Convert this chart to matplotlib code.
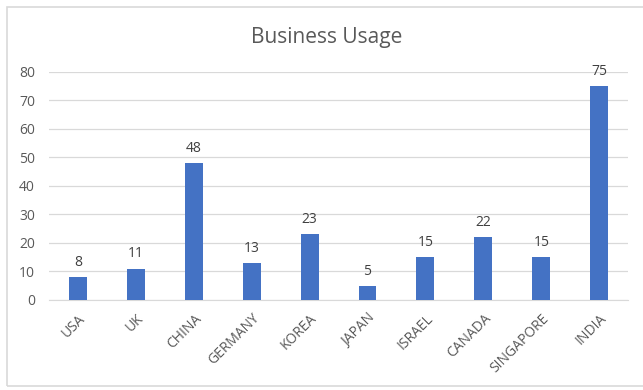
import matplotlib.pyplot as plt
from matplotlib.patches import Rectangle
import numpy as np

# 数据
countries = ['USA', 'UK', 'CHINA', 'GERMANY', 'KOREA', 'JAPAN', 'ISRAEL', 'CANADA', 'SINGAPORE', 'INDIA']
usage = [8, 11, 48, 13, 23, 5, 15, 22, 15, 75]
yticks = [0, 10, 20, 30, 40, 50, 60, 70, 80]

plt.rcParams['font.family'] = ['Open Sans', 'DejaVu Sans']
text_color = '#595959'

fig = plt.figure(figsize=(6.43, 3.9), dpi=100)
ax = fig.add_axes([0.076, 0.231, 0.901, 0.585])

# 图表外框
fig.patches.append(Rectangle((7 / 643, 1 - 386 / 390), 1.0, 379 / 390,
                             transform=fig.transFigure, fill=False,
                             edgecolor='#d9d9d9', linewidth=1.2))

x = np.arange(len(countries))
bars = ax.bar(x, usage, width=0.31, color='#4472C4', zorder=3)
for xi, v in zip(x, usage):
    ax.text(xi, v + 2.5, str(v), ha='center', va='bottom', fontsize=10, color='#404040')

ax.set_xlim(-0.5, len(countries) - 0.5)
ax.set_ylim(0, 80)
ax.set_yticks(yticks)
ax.set_xticks(x)
ax.set_xticklabels(countries, rotation=45, ha='right', rotation_mode='anchor')
ax.tick_params(axis='both', length=0, labelsize=10, labelcolor=text_color)
ax.tick_params(axis='x', pad=8)
ax.tick_params(axis='y', pad=10)
ax.yaxis.grid(True, color='#d9d9d9', linewidth=0.9, zorder=0)
for s in ['top', 'right', 'left']:
    ax.spines[s].set_visible(False)
ax.spines['bottom'].set_color('#d9d9d9')

fig.text(0.508, 1 - 37 / 390, 'Business Usage', ha='center', va='center', fontsize=15, color=text_color)

fig.savefig('out.png', dpi=100)
